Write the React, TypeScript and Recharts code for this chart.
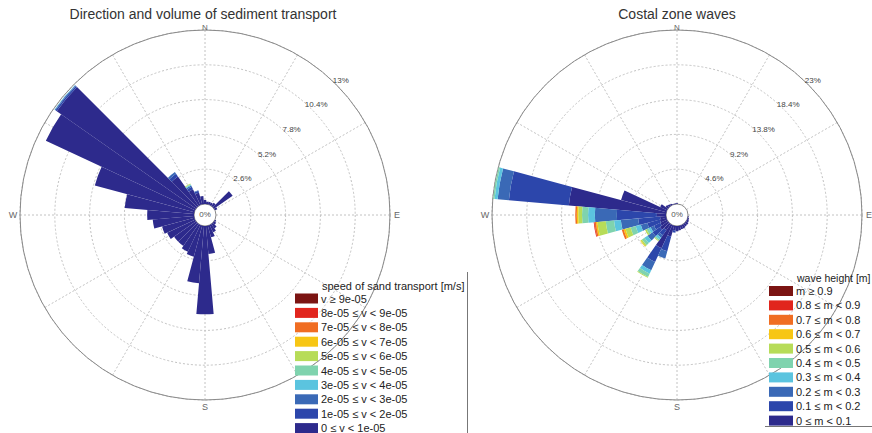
import { RadialBarChart, RadialBar, PolarGrid, PolarAngleAxis, PolarRadiusAxis } from 'recharts';

// compass bearing of each 10° sector, clockwise from north
const DIRECTIONS = [
  0, 10, 20, 30, 40, 50, 60, 70, 80, 90, 100, 110, 120, 130, 140, 150, 160, 170,
  180, 190, 200, 210, 220, 230, 240, 250, 260, 270, 280, 290, 300, 310, 320, 330, 340, 350,
];

const BAND_COLORS = [
  '#2d2a8c', '#2c46ab', '#3a69b6', '#5bc4df', '#7fd3ae',
  '#b7dc58', '#f7c614', '#f06d22', '#e1251d', '#7b1412',
];

const SEDIMENT_CLASSES = [
  '0 ≤ v < 1e-05', '1e-05 ≤ v < 2e-05', '2e-05 ≤ v < 3e-05', '3e-05 ≤ v < 4e-05',
  '4e-05 ≤ v < 5e-05', '5e-05 ≤ v < 6e-05', '6e-05 ≤ v < 7e-05', '7e-05 ≤ v < 8e-05',
  '8e-05 ≤ v < 9e-05', 'v ≥ 9e-05',
];

const WAVE_CLASSES = [
  '0 ≤ m < 0.1', '0.1 ≤ m < 0.2', '0.2 ≤ m < 0.3', '0.3 ≤ m < 0.4', '0.4 ≤ m < 0.5',
  '0.5 ≤ m < 0.6', '0.6 ≤ m < 0.7', '0.7 ≤ m < 0.8', '0.8 ≤ m < 0.9', 'm ≥ 0.9',
];

// sediment transport, % of records per sector for each speed class
const sedSpeed0 = [0.3, 0.2, 0.2, 0.2, 0.3, 1.7, 0.2, 0, 0, 0, 0, 0, 0.1, 0.2, 0.4, 0.6, 0.9, 2.1, 6.6, 4.3, 2.4, 2.2, 2.0, 2.0, 2.3, 2.5, 3.1, 3.5, 5.2, 7.7, 12.3, 12.7, 2.7, 1.3, 0.9, 0.6];
const sedSpeed1 = [0, 0, 0, 0, 0, 0, 0, 0, 0, 0, 0, 0, 0, 0, 0, 0, 0, 0, 0, 0, 0, 0, 0, 0, 0, 0, 0, 0, 0, 0, 0, 0.12, 0.25, 0.2, 0.15, 0];
const sedSpeed2 = [0, 0, 0, 0, 0, 0, 0, 0, 0, 0, 0, 0, 0, 0, 0, 0, 0, 0, 0, 0, 0, 0, 0, 0, 0, 0, 0, 0, 0, 0, 0, 0.06, 0.15, 0.12, 0.05, 0];
const sedSpeed3 = [0, 0, 0, 0, 0, 0, 0, 0, 0, 0, 0, 0, 0, 0, 0, 0, 0, 0, 0, 0, 0, 0, 0, 0, 0, 0, 0, 0, 0, 0, 0, 0.03, 0, 0.05, 0, 0];
const sedSpeed4 = [0, 0, 0, 0, 0, 0, 0, 0, 0, 0, 0, 0, 0, 0, 0, 0, 0, 0, 0, 0, 0, 0, 0, 0, 0, 0, 0, 0, 0, 0, 0, 0, 0, 0.05, 0, 0];
const sedSpeed5 = [0, 0, 0, 0, 0, 0, 0, 0, 0, 0, 0, 0, 0, 0, 0, 0, 0, 0, 0, 0, 0, 0, 0, 0, 0, 0, 0, 0, 0, 0, 0, 0, 0, 0.06, 0, 0];

// coastal waves, % of records per sector for each height class
const waveH0 = [0.1, 0, 0, 0, 0, 0, 0, 0, 0, 0, 0.1, 0.2, 0.3, 0.4, 0.4, 0.5, 0.5, 0.6, 0.7, 0.6, 1.5, 3.4, 1.0, 1.3, 1.0, 0.9, 0.8, 1.2, 12.9, 6.2, 1.0, 0.4, 0.3, 0.2, 0.1, 0.1];
const waveH1 = [0, 0, 0, 0, 0, 0, 0, 0, 0, 0, 0, 0, 0, 0, 0, 0, 0, 0, 0, 0.3, 2.0, 2.0, 0.8, 1.2, 0.9, 1.7, 2.9, 5.3, 7.95, 0, 0, 0, 0, 0, 0, 0];
const waveH2 = [0, 0, 0, 0, 0, 0, 0, 0, 0, 0, 0, 0, 0, 0, 0, 0, 0, 0, 0, 0, 1.0, 1.2, 0.4, 0.8, 0.5, 0.9, 2.3, 2.9, 1.5, 0, 0, 0, 0, 0, 0, 0];
const waveH3 = [0, 0, 0, 0, 0, 0, 0, 0, 0, 0, 0, 0, 0, 0, 0, 0, 0, 0, 0, 0, 0, 0.5, 0.3, 0.5, 0.3, 0.7, 0.9, 0.9, 0.4, 0, 0, 0, 0, 0, 0, 0];
const waveH4 = [0, 0, 0, 0, 0, 0, 0, 0, 0, 0, 0, 0, 0, 0, 0, 0, 0, 0, 0, 0, 0, 0.5, 0.2, 0.4, 0.3, 0.7, 1.1, 0.8, 0.2, 0, 0, 0, 0, 0, 0, 0];
const waveH5 = [0, 0, 0, 0, 0, 0, 0, 0, 0, 0, 0, 0, 0, 0, 0, 0, 0, 0, 0, 0, 0, 0.1, 0.1, 0.2, 0.2, 0.7, 1.1, 0.5, 0, 0, 0, 0, 0, 0, 0, 0];
const waveH6 = [0, 0, 0, 0, 0, 0, 0, 0, 0, 0, 0, 0, 0, 0, 0, 0, 0, 0, 0, 0, 0, 0, 0, 0.1, 0, 0.25, 0.2, 0.2, 0, 0, 0, 0, 0, 0, 0, 0];
const waveH7 = [0, 0, 0, 0, 0, 0, 0, 0, 0, 0, 0, 0, 0, 0, 0, 0, 0, 0, 0, 0, 0, 0, 0, 0, 0, 0.25, 0.2, 0.2, 0, 0, 0, 0, 0, 0, 0, 0];
const waveH8 = [0, 0, 0, 0, 0, 0, 0, 0, 0, 0, 0, 0, 0, 0, 0, 0, 0, 0, 0, 0, 0, 0, 0, 0, 0, 0, 0.1, 0, 0, 0, 0, 0, 0, 0, 0, 0];

const SEDIMENT_TICKS = [2.6, 5.2, 7.8, 10.4, 13];
const WAVE_TICKS = [4.6, 9.2, 13.8, 18.4, 23];

const CY = 215;
const HOLE_R = 11;
const OUTER_R = 185;
const LEFT_W = 470;
const LEFT_CX = 205;
const RIGHT_CX = 677;
const SPOKES = [0, 30, 60, 90, 120, 150, 180, 210, 240, 270, 300, 330];
const FONT = '"Liberation Sans", Arial, sans-serif';

const toRows = (bands: number[][]) =>
  DIRECTIONS.map((dir, i) => {
    const row: Record<string, number> = { dir };
    BAND_COLORS.forEach((_, b) => {
      row[`b${b}`] = bands[b]?.[i] ?? 0;
    });
    return row;
  });

const sedimentRows = toRows([sedSpeed0, sedSpeed1, sedSpeed2, sedSpeed3, sedSpeed4, sedSpeed5]);
const waveRows = toRows([waveH0, waveH1, waveH2, waveH3, waveH4, waveH5, waveH6, waveH7, waveH8]);

const RingTick = (props: any) => {
  const { x, y, payload } = props;
  return (
    <text x={x + 5} y={y - 4} textAnchor="middle" dominantBaseline="central" fontSize={8} fill="#444" fontFamily={FONT}>
      {`${payload.value}%`}
    </text>
  );
};

function WindRose({ rows, ticks, width, cx }: { rows: Record<string, number>[]; ticks: number[]; width: number; cx: number }) {
  const max = ticks[ticks.length - 1];
  // sectors run clockwise; the band of the first sector is centred on north
  return (
    <RadialBarChart
      width={width}
      height={433}
      data={rows}
      cx={cx}
      cy={CY}
      innerRadius={HOLE_R}
      outerRadius={OUTER_R}
      startAngle={85}
      endAngle={-275}
      layout="centric"
      barCategoryGap={0}
      barGap={0}
      margin={{ top: 0, right: 0, bottom: 0, left: 0 }}
    >
      <PolarGrid gridType="circle" polarAngles={SPOKES} stroke="#c2c2c2" strokeDasharray="2 2" />
      <PolarGrid gridType="circle" polarRadius={[OUTER_R]} radialLines={false} stroke="#8a8a8a" />
      <PolarGrid gridType="circle" polarRadius={[HOLE_R]} radialLines={false} stroke="#8a8a8a" />
      <PolarAngleAxis type="category" dataKey="dir" scale="band" tick={false} tickLine={false} axisLine={false} />
      <PolarRadiusAxis type="number" domain={[0, max]} ticks={ticks} angle={45} axisLine={false} tickLine={false} tick={RingTick} />
      {BAND_COLORS.map((color, b) => (
        <RadialBar key={b} dataKey={`b${b}`} stackId="rose" fill={color} stroke="none" isAnimationActive={false} />
      ))}
    </RadialBarChart>
  );
}

function CompassLabels({ cx }: { cx: number }) {
  const r = 192;
  const points: [string, number][] = [['N', 0], ['E', 90], ['S', 180], ['W', 270]];
  return (
    <g fontSize={9} fill="#666" fontFamily={FONT} textAnchor="middle" dominantBaseline="central">
      {points.map(([name, deg]) => {
        const a = (deg * Math.PI) / 180;
        return (
          <text
            key={name}
            x={cx + r * Math.sin(a)}
            y={CY - r * Math.cos(a) + (deg === 0 ? 4 : 0)}
            fontSize={deg === 0 ? 8 : 9}
          >
            {name}
          </text>
        );
      })}
      <text x={cx} y={CY - 1} fontSize={8} fill="#555">0%</text>
    </g>
  );
}

function ClassLegend({ title, classes, x, y, swatchW, titleSize }: { title: string; classes: string[]; x: number; y: number; swatchW: number; titleSize: number }) {
  const step = 14.4;
  const order = classes.map((label, b) => ({ label, color: BAND_COLORS[b] })).reverse();
  return (
    <g fontFamily={FONT} fontSize={11} fill="#222">
      <text x={x + swatchW + 4} y={y - 13} dominantBaseline="central" fontSize={titleSize}>
        {title}
      </text>
      {order.map((item, i) => (
        <g key={item.label}>
          <rect x={x} y={y + i * step - 5} width={swatchW} height={10} fill={item.color} />
          <text x={x + swatchW + 3} y={y + i * step} dominantBaseline="central">
            {item.label}
          </text>
        </g>
      ))}
    </g>
  );
}

export default function App() {
  return (
    <div style={{ position: 'absolute', left: 0, top: 0, width: 872, height: 433, overflow: 'hidden', background: '#fff' }}>
      <div style={{ position: 'absolute', left: 0, top: 0 }}>
        <WindRose rows={sedimentRows} ticks={SEDIMENT_TICKS} width={LEFT_W} cx={LEFT_CX} />
      </div>
      <div style={{ position: 'absolute', left: LEFT_W, top: 0 }}>
        <WindRose rows={waveRows} ticks={WAVE_TICKS} width={872 - LEFT_W} cx={RIGHT_CX - LEFT_W} />
      </div>
      <svg width={872} height={433} style={{ position: 'absolute', left: 0, top: 0, pointerEvents: 'none' }}>
        <text x={203} y={19} textAnchor="middle" fontSize={14} fill="#333" fontFamily={FONT}>
          Direction and volume of sediment transport
        </text>
        <text x={677} y={19} textAnchor="middle" fontSize={14} fill="#333" fontFamily={FONT}>
          Costal zone waves
        </text>
        <CompassLabels cx={LEFT_CX} />
        <CompassLabels cx={RIGHT_CX} />
        <ClassLegend title="speed of sand transport [m/s]" classes={SEDIMENT_CLASSES} x={295} y={298.5} swatchW={23} titleSize={11} />
        <ClassLegend title="wave height [m]" classes={WAVE_CLASSES} x={769} y={291} swatchW={24} titleSize={10.5} />
        <line x1={467.5} y1={272} x2={467.5} y2={433} stroke="#777" />
        <line x1={765} y1={426.5} x2={872} y2={426.5} stroke="#777" />
      </svg>
    </div>
  );
}
